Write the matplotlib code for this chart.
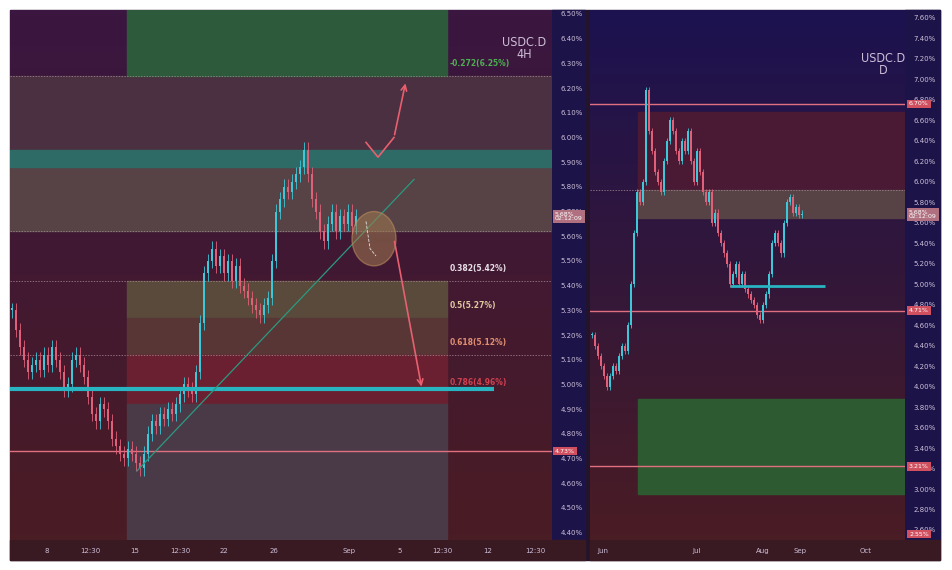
import numpy as np
import matplotlib.pyplot as plt
from matplotlib.patches import Rectangle, Ellipse
from matplotlib.colors import LinearSegmentedColormap
from matplotlib.transforms import blended_transform_factory

# 4H closes (USDC dominance %)
left_close = [5.30, 5.22, 5.15, 5.10, 5.05, 5.08, 5.10, 5.06, 5.12, 5.08, 5.15, 5.10, 5.05, 4.98, 5.00,
              5.10, 5.12, 5.08, 5.03, 4.95, 4.88, 4.85, 4.92, 4.90, 4.85, 4.78, 4.75, 4.72, 4.70, 4.74,
              4.72, 4.68, 4.66, 4.72, 4.80, 4.85, 4.83, 4.88, 4.86, 4.90, 4.88, 4.92, 4.96, 5.00, 4.98,
              4.96, 5.05, 5.25, 5.45, 5.50, 5.55, 5.48, 5.52, 5.45, 5.50, 5.42, 5.48, 5.40, 5.38, 5.35,
              5.32, 5.30, 5.28, 5.32, 5.35, 5.50, 5.70, 5.75, 5.80, 5.78, 5.82, 5.85, 5.88, 5.95, 5.85,
              5.75, 5.70, 5.62, 5.58, 5.65, 5.70, 5.62, 5.68, 5.65, 5.70, 5.64, 5.68]
# daily closes
right_close = [4.50, 4.40, 4.30, 4.20, 4.10, 4.00, 4.10, 4.20, 4.15, 4.30, 4.40, 4.35, 4.60, 5.00, 5.50,
               5.90, 5.80, 6.00, 6.90, 6.50, 6.30, 6.10, 6.00, 5.90, 6.20, 6.40, 6.60, 6.50, 6.30, 6.20,
               6.40, 6.30, 6.50, 6.20, 6.00, 6.30, 6.10, 5.90, 5.80, 5.90, 5.60, 5.70, 5.50, 5.40, 5.30,
               5.20, 5.00, 5.10, 5.20, 5.00, 5.10, 4.95, 4.90, 4.85, 4.80, 4.70, 4.65, 4.80, 4.90, 5.10,
               5.40, 5.50, 5.40, 5.30, 5.60, 5.80, 5.85, 5.70, 5.75, 5.68, 5.69]

left_ticks = [8.75, 19.5, 30.75, 42, 53, 65.5, 84.25, 97, 107.5, 119, 130.75]
left_tick_labels = ["8", "12:30", "15", "12:30", "22", "26", "Sep", "5", "12:30", "12", "12:30"]
right_ticks = [3.7, 35, 57, 69.3, 91.3]
right_tick_labels = ["Jun", "Jul", "Aug", "Sep", "Oct"]

fib_labels = [(6.25, "-0.272(6.25%)", "#4caf50"), (5.42, "0.382(5.42%)", "#e8e0e8"),
              (5.27, "0.5(5.27%)", "#e0c8a0"), (5.12, "0.618(5.12%)", "#e09070"),
              (4.96, "0.786(4.96%)", "#d04050")]

UP, DN = "#3cc8d8", "#e0607a"
TXT = "#cdbfd8"

fig = plt.figure(figsize=(9.52, 5.70), dpi=100)
W, H = 952, 570


def fr(x0, y0, x1, y1):
    return [x0 / W, 1 - y1 / H, (x1 - x0) / W, (y1 - y0) / H]


# background strips in a figure-wide axes underneath everything
bg = fig.add_axes([0, 0, 1, 1], zorder=-5)
bg.set_xlim(0, W)
bg.set_ylim(H, 0)
bg.axis("off")
bg.add_patch(Rectangle((10, 10), 930, 550, color="#24142a"))
bg.add_patch(Rectangle((552, 10), 33, 530, color="#1c1448"))
bg.add_patch(Rectangle((905, 10), 35, 530, color="#1c1448"))
bg.add_patch(Rectangle((10, 540), 575, 20, color="#3a1a22"))
bg.add_patch(Rectangle((590, 540), 350, 20, color="#3a1a22"))


def candles(ax, closes, width):
    closes = np.array(closes)
    opens = np.r_[closes[0], closes[:-1]]
    x = np.arange(len(closes))
    for xi, o, c in zip(x, opens, closes):
        col = UP if c >= o else DN
        ax.vlines(xi, min(o, c) - 0.03, max(o, c) + 0.03, color=col, lw=0.6, zorder=5)
        ax.bar(xi, max(abs(c - o), 0.01), bottom=min(o, c), width=width, color=col, zorder=5)


def gradient(ax, top, bottom):
    cmap = LinearSegmentedColormap.from_list("bg", [bottom, top])
    x0, x1 = ax.get_xlim()
    y0, y1 = ax.get_ylim()
    ax.imshow(np.linspace(0, 1, 100)[:, None], cmap=cmap, aspect="auto", origin="lower",
              extent=[x0, x1, y0, y1], zorder=0)


def tag(ax, xpix, y, s, fc):
    # price tag drawn at figure level so it sits above the tick labels
    tr = blended_transform_factory(fig.transFigure, ax.transData)
    fig.text(xpix / W, y, s, transform=tr, color="white", fontsize=4.5, va="center",
             linespacing=0.9, zorder=10,
             bbox=dict(boxstyle="square,pad=0.3", fc=fc, ec="none"))


# ---------- left 4H panel ----------
ax = fig.add_axes(fr(10, 10, 552, 540))
ax.set_xlim(-0.5, 135)
ax.set_ylim(4.370, 6.516)
gradient(ax, "#3a1640", "#4a1c24")
ax.add_patch(Rectangle((-0.5, 5.62), 136, 0.63, color="#4a3040", zorder=1))
ax.add_patch(Rectangle((-0.5, 5.62), 136, 0.26, color="#574246", zorder=1))
ax.add_patch(Rectangle((-0.5, 5.88), 136, 0.07, color="#2e6a66", zorder=2))
ax.add_patch(Rectangle((28.75, 6.25), 80, 0.3, color="#2d5a3a", zorder=1))
ax.add_patch(Rectangle((28.75, 5.27), 80, 0.15, color="#5a4a3c", zorder=1))
ax.add_patch(Rectangle((28.75, 5.12), 80, 0.15, color="#583636", zorder=1))
ax.add_patch(Rectangle((28.75, 4.92), 80, 0.20, color="#6a2030", zorder=1))
ax.add_patch(Rectangle((28.75, 4.37), 80, 0.55, color="#4a3a48", zorder=1))
for lv in [6.25, 5.62, 5.42, 5.12]:
    ax.axhline(lv, color="#a89098", lw=0.5, ls=(0, (2, 2)), zorder=3)
ax.axhline(4.73, color="#e07080", lw=1, zorder=4)
ax.hlines(4.98, -0.5, 120.5, color="#28b4c0", lw=3, zorder=6)
ax.plot([31.25, 100.5], [4.65, 5.83], color="#2a9a80", lw=0.9, zorder=6)
candles(ax, left_close, 0.6)
ax.add_patch(Ellipse((90.5, 5.59), 11, 0.22, facecolor="#a07a50", alpha=0.55,
                     edgecolor="#c09060", zorder=7))
ax.plot([88.5, 89.5, 91], [5.66, 5.55, 5.52], color="#e0e0e0", lw=0.6, ls="--", zorder=8)
ax.plot([88.5, 91.5, 95.5], [5.98, 5.92, 6.00], color="#e86070", lw=1.2, zorder=8)
ax.annotate("", xy=(98.5, 6.23), xytext=(95.5, 6.00),
            arrowprops=dict(arrowstyle="->", color="#e86070", lw=1.2), zorder=8)
ax.annotate("", xy=(102.5, 4.98), xytext=(95.5, 5.59),
            arrowprops=dict(arrowstyle="->", color="#e86070", lw=1.2), zorder=8)
for lv, lab, col in fib_labels:
    ax.text(109.5, lv + 0.03, lab, color=col, fontsize=5.5, fontweight="bold",
            va="bottom", zorder=9)
ax.text(128, 6.36, "USDC.D\n4H", color=TXT, fontsize=9, ha="center", va="center",
        linespacing=0.9, fontstretch="condensed")
ax.set_yticks(np.round(np.arange(4.4, 6.51, 0.1), 2))
ax.set_yticklabels([f"{v:.2f}%" for v in np.arange(4.4, 6.51, 0.1)])
ax.yaxis.tick_right()
ax.set_xticks(left_ticks)
ax.set_xticklabels(left_tick_labels)
ax.tick_params(colors=TXT, labelsize=5, length=0, pad=6)
for s in ax.spines.values():
    s.set_visible(False)
tag(ax, 555, 5.68, "5.68%\n02:12:09", "#b07080")
tag(ax, 555, 4.73, "4.73%", "#d05060")

# ---------- right daily panel ----------
ax2 = fig.add_axes(fr(590, 10, 905, 540))
ax2.set_xlim(-0.67, 104.3)
ax2.set_ylim(2.502, 7.678)
gradient(ax2, "#1c1250", "#4a1c24")
ax2.add_patch(Rectangle((15.3, 5.92), 90, 0.76, color="#4a1a34", zorder=1))
ax2.add_patch(Rectangle((15.3, 5.65), 90, 0.27, color="#574246", zorder=1))
ax2.add_patch(Rectangle((15.3, 2.95), 90, 0.93, color="#2d5a30", zorder=1))
ax2.axhline(6.76, color="#e07080", lw=1, zorder=4)
ax2.axhline(4.74, color="#e07080", lw=1, zorder=4)
ax2.axhline(3.22, color="#e07080", lw=1, zorder=4)
ax2.axhline(5.92, color="#a89098", lw=0.5, ls=(0, (2, 2)), zorder=3)
ax2.hlines(4.98, 46, 77.7, color="#28b4c0", lw=2, zorder=6)
candles(ax2, right_close, 0.7)
ax2.text(97, 7.15, "USDC.D\nD", color=TXT, fontsize=9, ha="center", va="center",
         linespacing=0.9, fontstretch="condensed")
yt = np.arange(2.6, 7.61, 0.2)
ax2.set_yticks(np.round(yt, 2))
ax2.set_yticklabels([f"{v:.2f}%" for v in yt])
ax2.yaxis.tick_right()
ax2.set_xticks(right_ticks)
ax2.set_xticklabels(right_tick_labels)
ax2.tick_params(colors=TXT, labelsize=5, length=0, pad=6)
for s in ax2.spines.values():
    s.set_visible(False)
for lv, lab, fc in [(6.76, "6.70%", "#d05060"), (5.68, "5.68%\n02:12:09", "#b07080"),
                    (4.74, "4.71%", "#d05060"), (3.22, "3.21%", "#d05060"),
                    (2.56, "2.55%", "#d05060")]:
    tag(ax2, 909, lv, lab, fc)

fig.savefig("out.png", dpi=100, facecolor="white")
